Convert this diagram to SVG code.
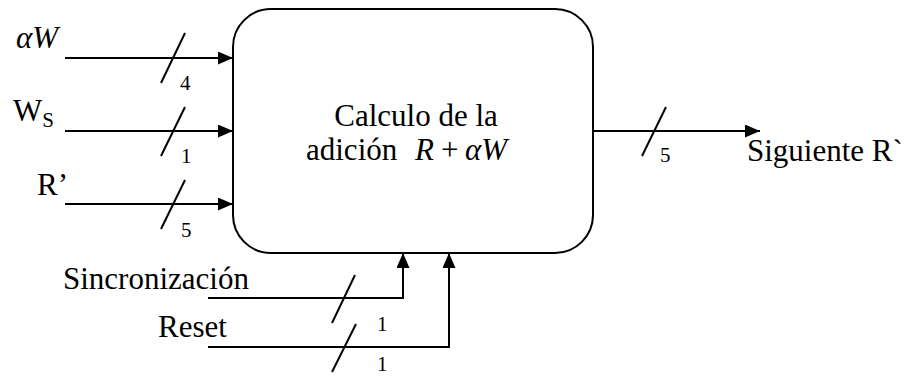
<svg xmlns="http://www.w3.org/2000/svg" width="918" height="376" viewBox="0 0 918 376">
<style>
.t{font-family:"Liberation Serif","Times New Roman",serif;font-size:31px;fill:#000}
.s{font-family:"Liberation Serif","Times New Roman",serif;font-size:21px;fill:#000}
.i{font-style:italic}
.w{stroke:#000;stroke-width:2;fill:none}
</style>
<defs>
<marker id="ah" markerWidth="15" markerHeight="13" refX="15" refY="6.5" orient="auto" markerUnits="userSpaceOnUse">
<path d="M0,0 L15,6.5 L0,13 Z" fill="#000"/>
</marker>
</defs>
<rect width="918" height="376" fill="#fff"/>
<g id="block">
<rect x="233" y="9" width="360" height="244" rx="38" ry="38" class="w"/>
<text class="t" x="416" y="126" text-anchor="middle">Calculo de la</text>
<text class="t" y="160"><tspan x="306">adición</tspan><tspan x="415" class="i">R</tspan><tspan x="441">+</tspan><tspan x="465" class="i">αW</tspan></text>
</g>
<g id="in-aw">
<text class="t i" x="16" y="48">αW</text>
</g>
<g id="in-ws">
<text class="t" x="13" y="121">W<tspan y="127" style="font-size:21px">S</tspan></text>
</g>
<g id="in-r">
<text class="t" x="37" y="195">R’</text>
</g>
<g id="in-sync">
<text class="t" x="63" y="289">Sincronización</text>
</g>
<g id="in-reset">
<text class="t" x="158" y="337">Reset</text>
</g>
<g id="out">
<text class="t" x="747" y="161">Siguiente R`</text>
</g>
<g id="connectors">
<line x1="65" y1="58" x2="233" y2="58" class="w" marker-end="url(#ah)"/>
<line x1="161" y1="83" x2="185" y2="33" class="w"/>
<text class="s" x="180" y="90">4</text>
<line x1="65" y1="131" x2="233" y2="131" class="w" marker-end="url(#ah)"/>
<line x1="161" y1="156" x2="185" y2="107" class="w"/>
<text class="s" x="181" y="163">1</text>
<line x1="65" y1="204" x2="233" y2="204" class="w" marker-end="url(#ah)"/>
<line x1="161" y1="229" x2="185" y2="180" class="w"/>
<text class="s" x="181" y="237">5</text>
<line x1="593" y1="131" x2="760" y2="131" class="w" marker-end="url(#ah)"/>
<line x1="642" y1="156" x2="666" y2="107" class="w"/>
<text class="s" x="660" y="162">5</text>
<polyline points="208,298 403,298 403,253" class="w" marker-end="url(#ah)"/>
<line x1="332" y1="323" x2="355" y2="275" class="w"/>
<text class="s" x="377" y="331">1</text>
<polyline points="208,347 449,347 449,253" class="w" marker-end="url(#ah)"/>
<line x1="332" y1="372" x2="356" y2="324" class="w"/>
<text class="s" x="377" y="371">1</text>
</g>
</svg>
